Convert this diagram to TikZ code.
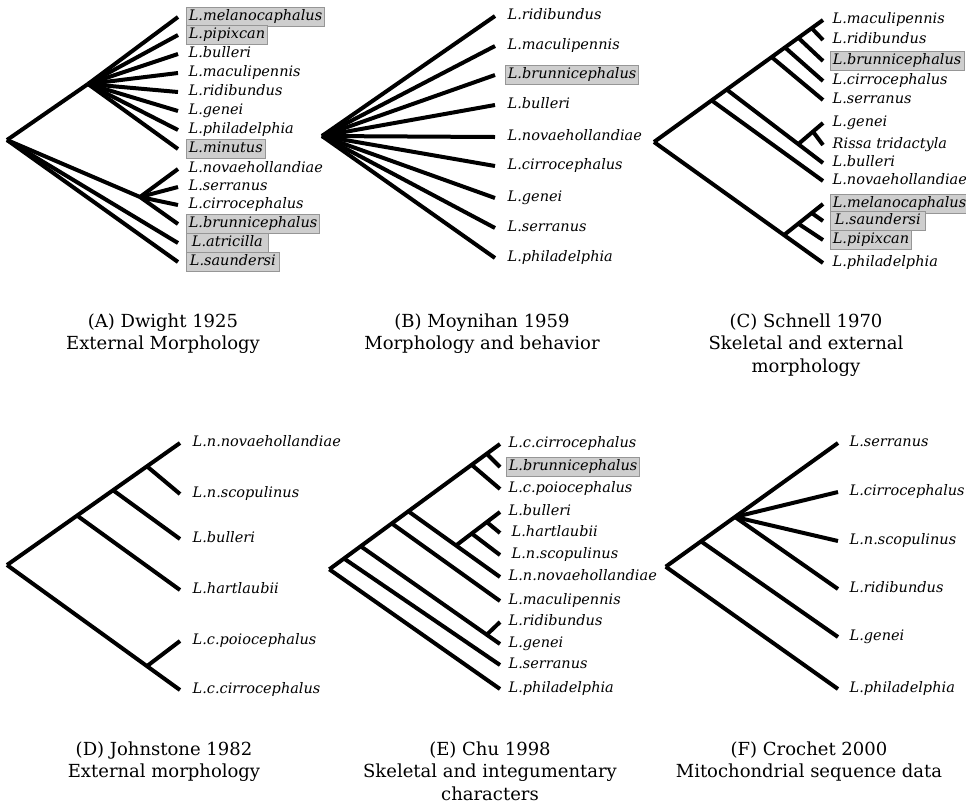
\documentclass[tikz,border=0pt]{standalone}
\usepackage{fontspec}
\setmainfont{DejaVu Serif}
\usepackage{tikz}
\usetikzlibrary{calc}
\definecolor{boxfill}{RGB}{206,206,206}
\definecolor{boxline}{RGB}{150,150,150}
% end of a branch, a little left of the label
\newcommand\leafend[1]{([xshift=-\tipgap]#1.west)}
\def\tipgap{8pt}

\begin{document}
\begin{tikzpicture}[x=1pt,y=-1pt,
  br/.style={line width=4pt},
  leaf/.style={anchor=west, inner xsep=2.5pt, inner ysep=2pt, text height=11pt, text depth=3.5pt,
    font=\fontsize{14.5}{16}\selectfont\itshape},
  hl/.style={leaf, fill=boxfill, draw=boxline, line width=0.7pt},
  panelcap/.style={anchor=north, align=center, font=\fontsize{18}{22.5}\selectfont}]
  \useasboundingbox (0,0) rectangle (966,804);

  % (A) Dwight 1925
  \begin{scope}
  \def\tipgap{8pt}
  \coordinate (aR) at (7,140);
  \coordinate (aU) at (88,84);
  \coordinate (aL) at (140,197);
  \node[hl] (a1) at (186,17) {L.melanocaphalus};
  \node[hl] (a2) at (186,35) {L.pipixcan};
  \node[leaf] (a3) at (186,54) {L.bulleri};
  \node[leaf] (a4) at (186,73) {L.maculipennis};
  \node[leaf] (a5) at (186,92) {L.ridibundus};
  \node[leaf] (a6) at (186,111) {L.genei};
  \node[leaf] (a7) at (186,130) {L.philadelphia};
  \node[hl] (a8) at (186,149) {L.minutus};
  \node[leaf] (a9) at (186,169) {L.novaehollandiae};
  \node[leaf] (a10) at (186,187) {L.serranus};
  \node[leaf] (a11) at (186,205) {L.cirrocephalus};
  \node[hl] (a12) at (186,224) {L.brunnicephalus};
  \node[hl,minimum width=82pt] (a13) at (186,243) {L.atricilla};
  \node[hl,minimum width=93pt] (a14) at (186,262) {L.saundersi};
  \draw[br] (aR) -- (aU);
  \draw[br] (aR) -- (aL);
  \foreach \i in {1,...,8} \draw[br] (aU) -- \leafend{a\i};
  \foreach \i in {9,...,12} \draw[br] (aL) -- \leafend{a\i};
  \draw[br] (aR) -- \leafend{a13};
  \draw[br] (aR) -- \leafend{a14};
  \end{scope}

  % (B) Moynihan 1959
  \begin{scope}
  \def\tipgap{10pt}
  \coordinate (bR) at (322,136);
  \node[leaf] (b1) at (505,16) {L.ridibundus};
  \node[leaf] (b2) at (505,46) {L.maculipennis};
  \node[hl] (b3) at (505,75) {L.brunnicephalus};
  \node[leaf] (b4) at (505,105) {L.bulleri};
  \node[leaf] (b5) at (505,137) {L.novaehollandiae};
  \node[leaf] (b6) at (505,166) {L.cirrocephalus};
  \node[leaf] (b7) at (505,198) {L.genei};
  \node[leaf] (b8) at (505,228) {L.serranus};
  \node[leaf] (b9) at (505,258) {L.philadelphia};
  \foreach \i in {1,...,9} \draw[br] (bR) -- \leafend{b\i};
  \end{scope}

  % (C) Schnell 1970
  \begin{scope}
  \def\tipgap{7pt}
  \node[leaf] (c1) at (830,20) {L.maculipennis};
  \node[leaf] (c2) at (830,40) {L.ridibundus};
  \node[hl] (c3) at (830,61) {L.brunnicephalus};
  \node[leaf] (c4) at (830,81) {L.cirrocephalus};
  \node[leaf] (c5) at (830,100) {L.serranus};
  \node[leaf] (c6) at (830,123) {L.genei};
  \node[leaf] (c7) at (830,145) {Rissa tridactyla};
  \node[leaf] (c8) at (830,163) {L.bulleri};
  \node[leaf] (c9) at (830,181) {L.novaehollandiae};
  \node[hl] (c10) at (830,204) {L.melanocaphalus};
  \node[hl,minimum width=95pt] (c11) at (830,221) {L.saundersi};
  \node[hl] (c12) at (830,240) {L.pipixcan};
  \node[leaf] (c13) at (830,263) {L.philadelphia};
  \foreach \i in {1,...,13} \coordinate (ct\i) at ([xshift=-\tipgap]c\i.west);
  \coordinate (cR) at (654,142);
  \coordinate (cN1) at ($(cR)!0.341!(ct1)$);
  \coordinate (cN2) at ($(cR)!0.430!(ct1)$);
  \coordinate (cN3) at ($(cR)!0.696!(ct1)$);
  \coordinate (cN4) at ($(cR)!0.775!(ct1)$);
  \coordinate (cN5) at ($(cR)!0.854!(ct1)$);
  \coordinate (cN6) at ($(cR)!0.933!(ct1)$);
  \coordinate (cG) at ($(cN2)!0.743!(ct8)$);
  \coordinate (cT) at ($(cG)!0.595!(ct6)$);
  \coordinate (cP) at ($(cR)!0.769!(ct13)$);
  \coordinate (cQ) at ($(cP)!0.367!(ct10)$);
  \coordinate (cS) at ($(cP)!0.71!(ct10)$);
  \draw[br] (cR) -- (ct1);
  \draw[br] (cN6) -- (ct2);
  \draw[br] (cN5) -- (ct3);
  \draw[br] (cN4) -- (ct4);
  \draw[br] (cN3) -- (ct5);
  \draw[br] (cG) -- (ct6);
  \draw[br] (cT) -- (ct7);
  \draw[br] (cN2) -- (ct8);
  \draw[br] (cN1) -- (ct9);
  \draw[br] (cP) -- (ct10);
  \draw[br] (cS) -- (ct11);
  \draw[br] (cQ) -- (ct12);
  \draw[br] (cR) -- (ct13);
  \end{scope}

  % (D) Johnstone 1982
  \begin{scope}
  \def\tipgap{10pt}
  \node[leaf] (d1) at (190,443) {L.n.novaehollandiae};
  \node[leaf] (d2) at (190,494) {L.n.scopulinus};
  \node[leaf] (d3) at (190,539) {L.bulleri};
  \node[leaf] (d4) at (190,590) {L.hartlaubii};
  \node[leaf] (d5) at (190,641) {L.c.poiocephalus};
  \node[leaf] (d6) at (190,690) {L.c.cirrocephalus};
  \foreach \i in {1,...,6} \coordinate (dt\i) at ([xshift=-\tipgap]d\i.west);
  \coordinate (dR) at (7,565);
  \coordinate (dA) at ($(dR)!0.405!(dt1)$);
  \coordinate (dB) at ($(dR)!0.613!(dt1)$);
  \coordinate (dC) at ($(dR)!0.809!(dt1)$);
  \coordinate (dP) at ($(dR)!0.809!(dt6)$);
  \draw[br] (dR) -- (dt1);
  \draw[br] (dC) -- (dt2);
  \draw[br] (dB) -- (dt3);
  \draw[br] (dA) -- (dt4);
  \draw[br] (dP) -- (dt5);
  \draw[br] (dR) -- (dt6);
  \end{scope}

  % (E) Chu 1998
  \begin{scope}
  \def\tipgap{6pt}
  \node[leaf] (e1) at (506,444) {L.c.cirrocephalus};
  \node[hl] (e2) at (506,467) {L.brunnicephalus};
  \node[leaf] (e3) at (506,489) {L.c.poiocephalus};
  \node[leaf] (e4) at (506,512) {L.bulleri};
  \node[leaf] (e5) at (509,533) {L.hartlaubii};
  \node[leaf] (e6) at (509,555) {L.n.scopulinus};
  \node[leaf] (e7) at (506,577) {L.n.novaehollandiae};
  \node[leaf] (e8) at (506,601) {L.maculipennis};
  \node[leaf] (e9) at (506,622) {L.ridibundus};
  \node[leaf] (e10) at (506,644) {L.genei};
  \node[leaf] (e11) at (506,665) {L.serranus};
  \node[leaf] (e12) at (506,689) {L.philadelphia};
  \foreach \i in {1,...,12} \coordinate (et\i) at ([xshift=-\tipgap]e\i.west);
  \coordinate (et5) at ([xshift=-9pt]e5.west);
  \coordinate (et6) at ([xshift=-9pt]e6.west);
  \coordinate (eR) at (329.3,569.3);
  \coordinate (eA) at ($(eR)!0.086!(et1)$);
  \coordinate (eB) at ($(eR)!0.184!(et1)$);
  \coordinate (eC) at ($(eR)!0.366!(et1)$);
  \coordinate (eD) at ($(eR)!0.463!(et1)$);
  \coordinate (eE) at ($(eR)!0.834!(et1)$);
  \coordinate (eF) at ($(eR)!0.922!(et1)$);
  \coordinate (eG) at ($(eB)!0.905!(et10)$);
  \coordinate (eH) at ($(eD)!0.52!(et7)$);
  \coordinate (eI) at ($(eH)!0.357!(et4)$);
  \coordinate (eJ) at ($(eH)!0.70!(et4)$);
  \draw[br] (eR) -- (et1);
  \draw[br] (eF) -- (et2);
  \draw[br] (eE) -- (et3);
  \draw[br] (eH) -- (et4);
  \draw[br] (eJ) -- (et5);
  \draw[br] (eI) -- (et6);
  \draw[br] (eD) -- (et7);
  \draw[br] (eC) -- (et8);
  \draw[br] (eG) -- (et9);
  \draw[br] (eB) -- (et10);
  \draw[br] (eA) -- (et11);
  \draw[br] (eR) -- (et12);
  \end{scope}

  % (F) Crochet 2000
  \begin{scope}
  \def\tipgap{9pt}
  \node[leaf] (f1) at (847,443) {L.serranus};
  \node[leaf] (f2) at (847,492) {L.cirrocephalus};
  \node[leaf] (f3) at (847,541) {L.n.scopulinus};
  \node[leaf] (f4) at (847,589) {L.ridibundus};
  \node[leaf] (f5) at (847,637) {L.genei};
  \node[leaf] (f6) at (847,689) {L.philadelphia};
  \foreach \i in {1,...,6} \coordinate (ft\i) at ([xshift=-\tipgap]f\i.west);
  \coordinate (fR) at (665.7,566.7);
  \coordinate (fA) at ($(fR)!0.205!(ft1)$);
  \coordinate (fM) at ($(fR)!0.402!(ft1)$);
  \draw[br] (fR) -- (ft1);
  \foreach \i in {2,3,4} \draw[br] (fM) -- (ft\i);
  \draw[br] (fA) -- (ft5);
  \draw[br] (fR) -- (ft6);
  \end{scope}

  % captions
  \node[panelcap] (capA) at (163,310) {(A) Dwight 1925\\External Morphology};
  \node[panelcap] (capB) at (482,310) {(B) Moynihan 1959\\Morphology and behavior};
  \node[panelcap] (capC) at (806,310) {(C) Schnell 1970\\Skeletal and external\\morphology};
  \node[panelcap] (capD) at (164,738) {(D) Johnstone 1982\\External morphology};
  \node[panelcap] (capE) at (490,738) {(E) Chu 1998\\Skeletal and integumentary\\characters};
  \node[panelcap] (capF) at (809,738) {(F) Crochet 2000\\Mitochondrial sequence data};
\end{tikzpicture}
\end{document}
